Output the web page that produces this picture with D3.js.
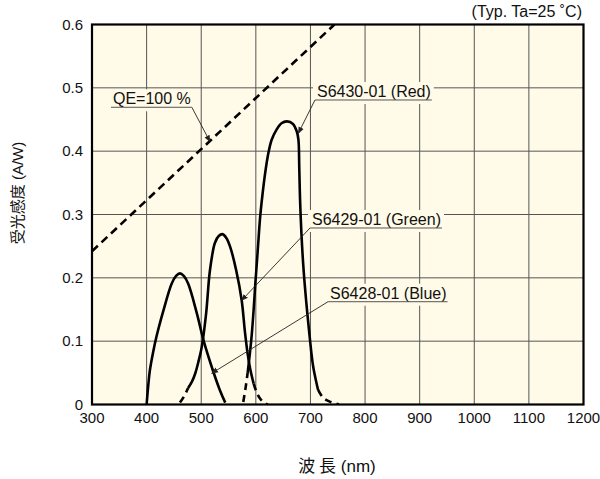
<!DOCTYPE html>
<html>
<head>
<meta charset="utf-8">
<script src="https://cdn.jsdelivr.net/npm/d3@7"></script>
<style>
  body { margin: 0; background: #fff; }
  svg text { font-family: "Liberation Sans", Arial, sans-serif; fill: #111; }
</style>
</head>
<body>
<svg id="chart" width="600" height="479"></svg>
<script>
// spectral response (nm / A/W)
var blueWl  = [400, 403, 406, 412, 418, 431, 446, 454, 461, 468, 476, 492, 504, 519, 534, 544];
var blueVal = [0, 0.03, 0.054, 0.083, 0.107, 0.149, 0.191, 0.203, 0.207, 0.203, 0.191, 0.144, 0.102, 0.06, 0.023, 0.003];

var greenWl  = [461, 468, 476, 483, 489, 495, 501, 509, 516, 525, 532, 539, 546, 553, 564, 574, 580, 585, 590, 596, 602, 608, 615, 622];
var greenVal = [0.003, 0.012, 0.026, 0.036, 0.049, 0.068, 0.091, 0.144, 0.212, 0.255, 0.266, 0.269, 0.263, 0.249, 0.212, 0.165, 0.115, 0.08, 0.055, 0.033, 0.018, 0.009, 0.003, 0];

var redWl  = [577, 581, 585, 589, 592.5, 596, 599, 602, 605, 608, 612, 617, 623, 629, 638, 647, 657, 668, 675, 678, 679.5, 681, 683.5, 687, 692, 698, 705, 714, 724, 737, 752];
var redVal = [0.004, 0.025, 0.05, 0.08, 0.11, 0.15, 0.19, 0.225, 0.262, 0.297, 0.33, 0.365, 0.397, 0.418, 0.434, 0.444, 0.447, 0.443, 0.431, 0.418, 0.375, 0.323, 0.27, 0.218, 0.165, 0.112, 0.06, 0.023, 0.01, 0.004, 0];

// solid part of each curve, tails outside are dashed
var blueSolid  = [400, 544];
var greenSolid = [476, 596];
var redSolid   = [585, 714];

// QE = 100 % line
var qeWl  = [300, 744];
var qeVal = [0.242, 0.6];

var xTicks = [300, 400, 500, 600, 700, 800, 900, 1000, 1100, 1200];
var yTicks = [0, 0.1, 0.2, 0.3, 0.4, 0.5, 0.6];

// annotations: underline start (wl, val), arrow tip (wl, val), which end the leader leaves from
var notes = [
  {text: "QE=100 %", wl: 334.8, val: 0.4693, tipWl: 516.1, tipVal: 0.415, from: "right"},
  {text: "S6430-01 (Red)", wl: 708.3, val: 0.4808, tipWl: 677.8, tipVal: 0.4282, from: "left"},
  {text: "S6429-01 (Green)", wl: 699.2, val: 0.2787, tipWl: 573.8, tipVal: 0.1642, from: "left"},
  {text: "S6428-01 (Blue)", wl: 732.2, val: 0.1623, tipWl: 519.2, tipVal: 0.0493, from: "left"}
];

var svg = d3.select("#chart");
var pLeft = 92, pRight = 583.5, pTop = 24.5, pBottom = 404.5;
var x = d3.scaleLinear().domain([300, 1200]).range([pLeft, pRight]);
var y = d3.scaleLinear().domain([0, 0.6]).range([pBottom, pTop]);
var bg = "#fffbe8";

svg.append("defs").append("marker")
  .attr("id", "tip").attr("viewBox", "0 0 10 10")
  .attr("refX", 9).attr("refY", 5)
  .attr("markerWidth", 7).attr("markerHeight", 7)
  .attr("markerUnits", "userSpaceOnUse")
  .attr("orient", "auto")
  .append("path").attr("d", "M0,1 L10,5 L0,9 Z").attr("fill", "#222");

svg.append("clipPath").attr("id", "plotclip")
  .append("rect").attr("x", pLeft).attr("y", pTop)
  .attr("width", pRight - pLeft).attr("height", pBottom - pTop);

svg.append("rect").attr("x", pLeft).attr("y", pTop)
  .attr("width", pRight - pLeft).attr("height", pBottom - pTop).attr("fill", bg);

// grid
svg.append("g").selectAll("line").data(xTicks.slice(1, -1)).enter().append("line")
  .attr("x1", function(d) { return x(d); }).attr("x2", function(d) { return x(d); })
  .attr("y1", pTop).attr("y2", pBottom)
  .attr("stroke", "#555").attr("stroke-width", 1);
svg.append("g").selectAll("line").data(yTicks.slice(1, -1)).enter().append("line")
  .attr("y1", function(d) { return y(d); }).attr("y2", function(d) { return y(d); })
  .attr("x1", pLeft).attr("x2", pRight)
  .attr("stroke", "#555").attr("stroke-width", 1);

// tick labels
svg.append("g").selectAll("text").data(xTicks).enter().append("text")
  .attr("x", function(d) { return x(d); }).attr("y", 423)
  .attr("text-anchor", "middle").style("font-size", "15px")
  .text(function(d) { return d; });
svg.append("g").selectAll("text").data(yTicks).enter().append("text")
  .attr("x", 83).attr("y", function(d) { return y(d) + 5; })
  .attr("text-anchor", "end").style("font-size", "15px")
  .text(function(d) { return d === 0 ? "0" : d.toFixed(1); });

// annotation boxes go under the curves
var noteG = svg.append("g");
var fontSize = 16;
notes.forEach(function(n) {
  var x0 = x(n.wl), y0 = y(n.val);
  var t = noteG.append("text").attr("x", x0 + 2).attr("y", y0 - 3)
    .style("font-size", fontSize + "px").text(n.text);
  var w = t.node().getComputedTextLength();
  var x1 = x0 + w + 3;
  noteG.insert("rect", "text").attr("x", x0 - 2).attr("y", y0 - 18)
    .attr("width", x1 - x0 + 4).attr("height", 22).attr("fill", bg);
  n.x0 = x0; n.x1 = x1; n.y0 = y0;
});

var plot = svg.append("g").attr("clip-path", "url(#plotclip)");
var line = d3.line()
  .x(function(d) { return x(d[0]); })
  .y(function(d) { return y(d[1]); })
  .curve(d3.curveCatmullRom.alpha(0.5));

function drawCurve(wl, val, solid) {
  var pts = wl.map(function(w, i) { return [w, val[i]]; });
  var mid = pts.filter(function(p) { return p[0] >= solid[0] && p[0] <= solid[1]; });
  var lo = pts.filter(function(p) { return p[0] <= solid[0]; });
  var hi = pts.filter(function(p) { return p[0] >= solid[1]; });
  plot.append("path").attr("d", line(mid)).attr("fill", "none")
    .attr("stroke", "#000").attr("stroke-width", 2.6);
  [lo, hi].forEach(function(seg) {
    if (seg.length < 2) return;
    plot.append("path").attr("d", line(seg)).attr("fill", "none")
      .attr("stroke", "#000").attr("stroke-width", 2.6)
      .attr("stroke-dasharray", "7,5");
  });
}
drawCurve(blueWl, blueVal, blueSolid);
drawCurve(greenWl, greenVal, greenSolid);
drawCurve(redWl, redVal, redSolid);

plot.append("path")
  .attr("d", d3.line()(qeWl.map(function(w, i) { return [x(w), y(qeVal[i])]; })))
  .attr("fill", "none").attr("stroke", "#000").attr("stroke-width", 2.6)
  .attr("stroke-dasharray", "8,5");

// underlines and leaders
notes.forEach(function(n) {
  noteG.append("line").attr("x1", n.x0).attr("x2", n.x1).attr("y1", n.y0).attr("y2", n.y0)
    .attr("stroke", "#555").attr("stroke-width", 1);
  var sx = n.from === "right" ? n.x1 : n.x0;
  svg.append("line").attr("class", "leader").attr("x1", sx).attr("y1", n.y0)
    .attr("x2", x(n.tipWl)).attr("y2", y(n.tipVal))
    .attr("stroke", "#222").attr("stroke-width", 0.9)
    .attr("marker-end", "url(#tip)");
});

// frame
svg.append("rect").attr("x", pLeft).attr("y", pTop)
  .attr("width", pRight - pLeft).attr("height", pBottom - pTop)
  .attr("fill", "none").attr("stroke", "#000").attr("stroke-width", 2.2);

svg.append("text").attr("x", 582).attr("y", 17).attr("text-anchor", "end")
  .style("font-size", "16px").text("(Typ. Ta=25 \u02daC)");

svg.append("text").attr("x", 337).attr("y", 472).attr("text-anchor", "middle")
  .style("font-size", "17px")
  .html('<tspan style="font-family:\'Noto Sans CJK JP\'">波 長</tspan> (nm)');

svg.append("text").attr("transform", "translate(23,193) rotate(-90)")
  .attr("text-anchor", "middle").style("font-size", "15px")
  .html('<tspan style="font-family:\'Noto Sans CJK JP\'">受光感度</tspan> (A/W)');
</script>
</body>
</html>
